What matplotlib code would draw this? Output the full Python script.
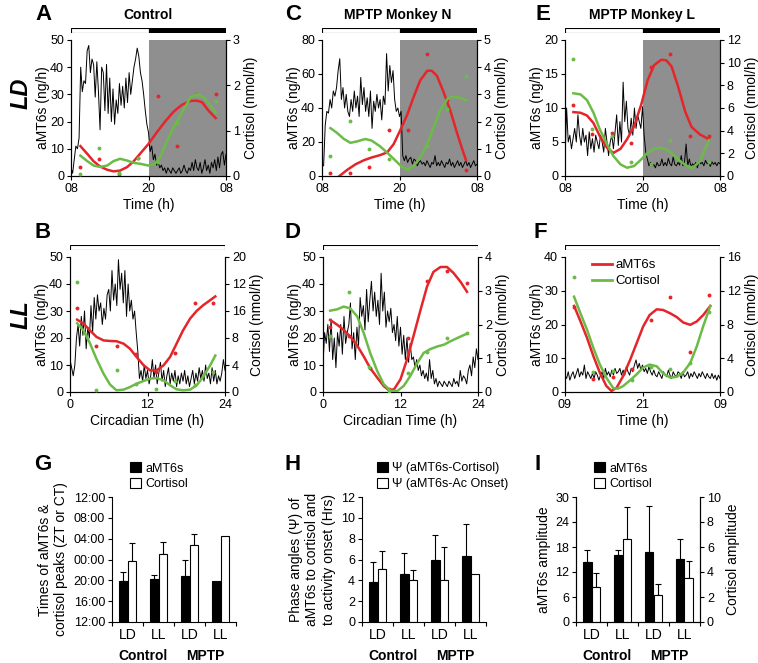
import numpy as np
import matplotlib.pyplot as plt
from matplotlib.patches import Patch
from matplotlib.lines import Line2D

plt.rcParams['font.family'] = ['Liberation Sans', 'DejaVu Sans']
plt.rcParams['font.size'] = 9

W, H = 758, 663
RED = '#e4262b'
GREEN = '#6cbb47'
GRAY = '#8f8f8f'

# ---------------- A: Control, LD ----------------
a_act_start = 8.0
a_act = [3, 1, 6, 11, 10, 14, 40, 31, 35, 34, 46, 48, 38, 43, 41, 29, 42, 31,
         17, 40, 38, 24, 41, 23, 36, 20, 32, 19, 28, 23, 34, 26, 33, 25, 36, 27,
         38, 30, 35, 40, 43, 47, 44, 38, 35, 30, 24, 19, 16, 9, 11, 6, 8, 4, 5,
         3, 4, 2, 3, 1, 3, 2, 1, 3, 2, 1, 2, 3, 1, 2, 4, 2, 1, 3, 2, 5, 2, 6, 3,
         2, 5, 1, 3, 6, 2, 4, 1, 5, 3, 6, 2, 7, 3, 8, 9, 4, 8]
a_dot_t = [9.45, 12.4, 15.4, 18.4, 21.4, 24.4, 27.4, 30.4]
a_red_dots = [3.3, 6.3, 0.9, 6.8, 29.5, 11.2, 30.1, 30.1]
a_grn_dots = [0.05, 0.61, 0.07, 0.40, 0.30, 1.18, 1.78, 1.66]
a_red_t = [9.45, 10.5, 11.5, 12.5, 13.6, 14.6, 15.6, 16.7, 17.7, 18.7, 20.0,
           21.3, 22.6, 23.9, 25.2, 26.5, 27.5, 28.3, 29.3, 30.4]
a_red_fit = [11.0, 8.2, 5.4, 3.5, 2.3, 1.7, 2.0, 3.3, 5.4, 8.2, 11.8, 16.1,
             20.1, 23.7, 26.2, 27.6, 27.7, 27.1, 24.0, 21.3]
a_grn_t = [9.45, 10.5, 11.5, 12.5, 13.6, 14.6, 15.6, 16.7, 17.7, 18.7, 20.0,
           21.0, 21.8, 22.9, 23.9, 25.2, 26.5, 27.5, 28.6, 29.6, 30.4]
a_grn_fit = [0.45, 0.33, 0.23, 0.20, 0.23, 0.33, 0.38, 0.34, 0.29, 0.27, 0.23,
             0.27, 0.42, 0.78, 1.08, 1.40, 1.73, 1.81, 1.73, 1.55, 1.40]

# ---------------- C: MPTP Monkey N, LD ----------------
c_act_start = 8.0
c_act = [6, 6, 30, 38, 37, 45, 40, 50, 47, 52, 62, 69, 45, 52, 40, 48, 38, 35,
         45, 38, 50, 40, 47, 35, 58, 42, 52, 38, 46, 35, 50, 28, 44, 38, 48, 40,
         45, 33, 47, 42, 72, 50, 65, 55, 62, 45, 38, 40, 35, 38, 12, 9, 12, 8,
         10, 11, 7, 10, 9, 6, 8, 9, 7, 8, 6, 9, 7, 5, 8, 7, 12, 6, 8, 6, 9, 7, 5,
         8, 7, 10, 6, 8, 5, 7, 9, 6, 8, 5, 7, 9, 6, 8, 5, 7, 9, 6, 7]
c_dot_t = [9.3, 12.3, 15.3, 18.3, 21.3, 24.3, 27.3, 30.3]
c_red_dots = [2.0, 1.6, 5.0, 27.2, 27.2, 71.8, 44.5, 3.4]
c_grn_dots = [0.74, 2.02, 0.99, 0.62, 0.26, 1.09, 2.48, 3.66]
c_red_t = [10.7, 11.9, 13.2, 14.5, 15.7, 17.0, 18.1, 19.1, 20.1, 21.2, 22.2,
           23.2, 24.3, 25.0, 25.8, 26.8, 27.9, 28.9, 29.7, 30.3]
c_red_fit = [0.0, 3.6, 6.9, 9.3, 10.9, 12.3, 13.9, 18.8, 26.8, 36.1, 46.6,
             56.2, 61.9, 61.9, 58.9, 49.6, 38.1, 25.4, 15.9, 9.3]
c_grn_t = [9.3, 10.3, 11.4, 12.4, 13.4, 14.7, 15.7, 17.0, 18.3, 19.4, 20.4,
           21.2, 22.2, 23.2, 24.3, 25.3, 26.3, 27.4, 28.1, 29.2, 30.3]
c_grn_fit = [1.76, 1.59, 1.36, 1.22, 1.27, 1.36, 1.30, 1.09, 0.81, 0.56, 0.33,
             0.25, 0.37, 0.68, 1.18, 1.80, 2.42, 2.83, 2.92, 2.88, 2.79]

# ---------------- E: MPTP Monkey L, LD ----------------
e_act_start = 8.0
e_act = [2, 10, 5, 6, 4, 5.5, 7, 5, 9, 6, 4.5, 7, 5, 6, 3, 6.5, 4, 5.5, 3.5, 6,
         5, 4, 6, 5, 3.5, 7, 5, 3, 5, 6, 4, 6.5, 9, 4.5, 8, 5, 13.8, 8, 11, 7, 6,
         8.5, 6, 10, 7, 9, 8, 7, 10.2, 6, 3.5, 2.5, 1.5, 2, 1.5, 1.7, 1.2, 2, 1.5,
         1.6, 2.5, 1.5, 2, 1.5, 2.6, 1.8, 1.5, 2.8, 1.7, 1.5, 2, 1.6, 3, 1.5, 2,
         4.7, 1.5, 2.5, 1.4, 1.8, 1.5, 2, 1.2, 2.2, 1.8, 2, 1.5, 2.3, 1.8, 2, 1.4,
         2.1, 1.7, 2, 1.5, 2, 1.8]
e_dot_t = [9.3, 12.2, 15.2, 18.2, 21.3, 24.3, 27.3, 30.3]
e_red_dots = [10.4, 6.2, 6.3, 4.9, 16.1, 18.0, 5.95, 5.95]
e_grn_dots = [10.3, 4.16, 3.57, 1.23, 1.1, 3.2, 0.8, 1.2]
e_red_t = [9.3, 10.4, 11.4, 12.4, 13.4, 14.5, 15.5, 16.6, 17.6, 18.7, 19.8,
           20.8, 21.8, 22.9, 23.7, 24.5, 25.5, 26.6, 27.6, 28.9, 30.3]
e_red_fit = [9.4, 9.3, 8.9, 7.8, 5.85, 4.15, 3.4, 4.0, 5.4, 7.3, 10.5, 14.1,
             16.3, 17.1, 17.0, 16.1, 13.2, 9.5, 7.2, 6.1, 5.4]
e_grn_t = [9.3, 10.4, 11.4, 12.4, 13.4, 14.5, 15.5, 16.6, 17.6, 18.7, 19.8,
           20.8, 21.8, 22.9, 23.9, 25.0, 26.0, 27.1, 27.8, 28.9, 30.3]
e_grn_fit = [7.3, 7.2, 6.7, 5.6, 4.1, 2.8, 1.76, 1.02, 0.73, 0.88, 1.46, 2.05,
             2.4, 2.49, 2.28, 1.76, 1.23, 0.82, 0.73, 1.32, 3.16]

# ---------------- B: Control, LL ----------------
b_act_start = 0.0
b_act = [12, 9, 6, 10, 20, 25, 17, 28, 21, 30, 16, 24, 20, 32, 22, 35, 27, 36,
         30, 33, 25, 31, 27, 36, 38, 30, 45, 34, 40, 32, 49, 38, 44, 33, 45, 28,
         40, 30, 34, 27, 30, 22, 15, 5, 8, 4, 10, 5, 8, 3, 6, 12, 5, 10, 3, 7, 11,
         4, 8, 2, 6, 9, 3, 7, 4, 8, 2, 6, 3, 7, 4, 8, 3, 6, 2, 5, 8, 3, 7, 4, 9,
         5, 8, 4, 10, 5, 7, 3, 9, 4, 8, 3, 6, 4, 7, 12, 8]
b_dot_t = [1.1, 4.1, 7.2, 10.2, 13.3, 16.3, 19.3, 22.2]
b_red_dots = [31.0, 17.0, 17.0, 14.0, 7.4, 14.5, 33.0, 33.0]
b_grn_dots = [16.3, 0.25, 3.2, 1.2, 0.4, 1.7, 1.0, 3.0]
b_red_t = [1.1, 2.1, 3.1, 4.1, 5.2, 6.2, 7.2, 8.3, 9.3, 10.3, 11.4, 12.4,
           13.4, 14.5, 15.5, 16.5, 17.5, 18.6, 19.6, 20.6, 21.7, 22.5]
b_red_fit = [26.8, 25.3, 22.8, 20.4, 19.1, 18.9, 18.8, 17.9, 16.0, 13.0, 9.9,
             8.0, 8.0, 9.9, 13.0, 17.9, 22.8, 27.2, 30.0, 32.1, 34.0, 35.4]
b_grn_t = b_red_t
b_grn_fit = [10.2, 9.1, 7.2, 4.9, 2.7, 1.1, 0.25, 0.35, 0.74, 1.23, 1.63, 1.98,
             2.07, 1.73, 0.99, 0.4, 0.25, 0.35, 0.99, 2.2, 3.95, 5.4]

# ---------------- D: MPTP Monkey N, LL ----------------
d_act_start = 0.0
d_act = [10, 22, 18, 25, 15, 27, 12, 20, 9, 22, 17, 25, 14, 28, 18, 22, 25, 33,
         16, 22, 12, 24, 17, 35, 28, 32, 23, 38, 26, 34, 41, 30, 37, 28, 34, 25,
         44, 30, 37, 24, 30, 26, 31, 22, 25, 19, 28, 17, 24, 14, 21, 12, 20, 11,
         18, 12, 13, 9, 12, 8, 10, 6, 8, 5, 7, 4, 12, 5, 8, 3, 5, 2, 4, 3, 2, 4,
         3, 2, 4, 3, 2, 5, 3, 4, 2, 8, 4, 6, 5, 3, 8, 10, 6, 13, 9, 16, 12]
d_dot_t = [1.1, 4.1, 7.2, 10.2, 13.2, 16.1, 19.2, 22.3]
d_red_dots = [24.0, 20.6, 9.0, 1.0, 20.0, 41.2, 44.9, 40.4]
d_grn_dots = [1.67, 2.97, 0.75, 0.02, 0.57, 1.2, 1.6, 1.75]
d_red_t = [1.1, 2.2, 3.2, 4.2, 5.3, 6.3, 7.3, 8.4, 9.4, 10.2, 11.0, 12.0, 13.0,
           14.0, 15.1, 16.1, 17.1, 18.2, 19.2, 20.2, 21.3, 22.3]
d_red_fit = [26.7, 24.9, 23.0, 20.6, 17.2, 13.2, 8.9, 5.3, 2.2, 0.7, 1.0, 4.7,
             12.0, 20.6, 30.4, 39.0, 44.5, 46.3, 46.3, 44.1, 40.8, 37.1]
d_grn_t = [1.1, 2.2, 3.2, 4.2, 5.3, 6.3, 7.3, 8.4, 9.4, 10.5, 11.5, 12.5, 13.5,
           14.6, 15.6, 16.6, 17.7, 18.7, 19.7, 20.8, 22.3]
d_grn_fit = [2.41, 2.45, 2.53, 2.48, 2.24, 1.75, 1.16, 0.62, 0.23, 0.03, 0.03,
             0.18, 0.47, 0.86, 1.16, 1.27, 1.35, 1.40, 1.50, 1.60, 1.73]

# ---------------- F: MPTP Monkey L, LL ----------------
f_act_start = 9.0
f_act = [5, 4, 6, 3.5, 5, 6, 4, 5.5, 7, 4.5, 6, 5, 8, 4, 6, 5, 4, 5.5, 4, 6, 5,
         3.5, 5, 6, 4, 7, 5, 6, 4.5, 6.5, 5, 7, 5.5, 6, 7, 5, 6.5, 5, 7.5, 6, 5,
         7, 6, 8, 9.5, 7, 8.5, 6.5, 8, 6, 7, 5.5, 7.5, 6, 5, 6.5, 5, 4.5, 6, 5, 4,
         6, 5, 4.5, 6.5, 5, 4, 6, 5, 4.5, 6, 5.5, 4, 6, 4.5, 5, 6, 4, 5.5, 4.5, 6,
         5, 4, 5.5, 4.5, 6, 5, 4, 5.5, 4.5, 4, 5.5, 4, 5, 3.5, 5, 4]
f_dot_t = [10.4, 13.4, 16.4, 19.4, 22.3, 25.3, 28.3, 31.3]
f_red_dots = [25.1, 4.0, 4.5, 6.7, 21.2, 28.2, 11.8, 28.7]
f_grn_dots = [13.6, 2.35, 2.5, 1.4, 3.0, 2.7, 3.4, 9.5]
f_red_t = [10.4, 11.3, 12.4, 13.4, 14.4, 15.4, 16.2, 17.0, 18.0, 19.1, 20.1,
           21.1, 22.1, 23.2, 24.2, 25.3, 26.3, 27.3, 28.4, 29.4, 30.4, 31.5]
f_red_fit = [25.5, 21.4, 16.1, 10.6, 5.7, 1.8, 0.3, 1.3, 4.7, 9.6, 14.5, 19.4,
             22.8, 24.5, 24.3, 23.3, 22.2, 20.6, 19.9, 20.9, 22.8, 25.5]
f_grn_t = [10.4, 11.3, 12.4, 13.4, 14.4, 15.4, 16.5, 17.2, 18.0, 19.1, 20.1,
           21.1, 22.1, 23.2, 24.2, 25.3, 26.3, 27.3, 28.4, 29.4, 30.4, 31.5]
f_grn_fit = [11.3, 9.5, 7.4, 5.2, 3.25, 1.7, 0.43, 0.4, 0.7, 1.4, 2.1, 2.9,
             3.25, 3.05, 2.2, 1.7, 1.8, 2.3, 3.45, 5.4, 7.8, 10.2]

# ---------------- G, H, I: group summaries ----------------
groups = ['LD', 'LL', 'LD', 'LL']
conditions = ['Control', 'MPTP']

g_amt = [19.9, 20.2, 20.9, 19.9]
g_amt_err = [1.75, 0.9, 3.1, 0]
g_cort = [23.7, 25.0, 26.8, 28.6]
g_cort_err = [3.4, 2.4, 2.1, 0]
g_ticks = [12, 16, 20, 24, 28, 32, 36]
g_ticklabels = ['12:00', '16:00', '20:00', '00:00', '04:00', '08:00', '12:00']

h_psi_cort = [3.85, 4.6, 5.95, 6.35]
h_psi_cort_err = [1.95, 2.05, 2.4, 3.05]
h_psi_onset = [5.1, 4.0, 4.05, 4.6]
h_psi_onset_err = [1.75, 1.0, 3.15, 0]

i_amt = [14.3, 16.0, 16.7, 15.1]
i_amt_err = [2.9, 1.2, 11.2, 4.9]
i_cort = [2.8, 6.65, 2.15, 3.5]
i_cort_err = [1.1, 2.55, 0.9, 1.4]


fig = plt.figure(figsize=(W / 100, H / 100), dpi=100)


def px_axes(l, t, r, b):
    return fig.add_axes([l / W, 1 - b / H, (r - l) / W, (b - t) / H])


def light_bar(rect, xlim, starts, widths, colors):
    bx = px_axes(*rect)
    bx.barh(0, widths, left=starts, height=1, color=colors,
            edgecolor='black', linewidth=0.8)
    bx.set_xlim(xlim)
    bx.set_ylim(-0.5, 0.5)
    bx.axis('off')


def time_panel(rect, xlim, xticks, xticklabels, act_start, act,
               dot_t, red_dots, grn_dots, red_t, red_fit, grn_t, grn_fit,
               ylim, yticks, ylim2, yticks2, xlabel, dark=None,
               yticklabels2=None):
    ax = px_axes(*rect)
    ax2 = ax.twinx()
    if dark is not None:
        ax.axvspan(dark[0], dark[1], color=GRAY, lw=0, zorder=0)
    act_t = act_start + 0.25 * np.arange(len(act))
    ax.plot(act_t, act, color='black', lw=0.7, zorder=2)
    ax.plot(red_t, red_fit, color=RED, lw=1.8, zorder=3)
    ax.plot(dot_t, red_dots, 'o', color=RED, ms=2.8, mew=0, zorder=4)
    ax2.plot(grn_t, grn_fit, color=GREEN, lw=1.8, zorder=3)
    ax2.plot(dot_t, grn_dots, 'o', color=GREEN, ms=2.8, mew=0, zorder=4)

    ax.set_xlim(xlim)
    ax.set_xticks(xticks)
    ax.set_xticklabels(xticklabels)
    ax.set_ylim(ylim)
    ax.set_yticks(yticks)
    ax2.set_ylim(ylim2)
    ax2.set_yticks(yticks2)
    if yticklabels2 is not None:
        ax2.set_yticklabels(yticklabels2)
    for a in (ax, ax2):
        a.spines['top'].set_visible(False)
        for s in a.spines.values():
            s.set_linewidth(0.8)
        a.tick_params(direction='out', length=3, width=0.8, pad=2,
                      labelsize=9)
    ax.set_ylabel('aMT6s (ng/h)', fontsize=10, labelpad=0)
    ax2.set_ylabel('Cortisol (nmol/h)', fontsize=10, labelpad=3)
    ax.set_xlabel(xlabel, fontsize=10, labelpad=2)
    return ax, ax2


def bar_panel(rect, black, black_err, white, white_err, ylim, yticks,
              yticklabels=None, twin_ylim=None, twin_yticks=None):
    ax = px_axes(*rect)
    x = np.arange(len(groups))
    wd = 0.28
    ax.bar(x - wd / 2, black, wd, color='black', edgecolor='black',
           lw=0.8, zorder=2)
    has_err = np.array(black_err) > 0
    ax.errorbar((x - wd / 2)[has_err], np.array(black)[has_err],
                yerr=[np.zeros(has_err.sum()), np.array(black_err)[has_err]],
                fmt='none', ecolor='black', elinewidth=0.8, capsize=2.5,
                capthick=0.8, zorder=1)
    wax = ax
    if twin_ylim is not None:
        wax = ax.twinx()
        wax.set_ylim(twin_ylim)
        wax.set_yticks(twin_yticks)
        wax.spines['top'].set_visible(False)
        wax.tick_params(direction='out', length=3, width=0.8, pad=2,
                        labelsize=9)
    wax.bar(x + wd / 2, white, wd, color='white', edgecolor='black',
            lw=0.8, zorder=2)
    has_err = np.array(white_err) > 0
    wax.errorbar((x + wd / 2)[has_err], np.array(white)[has_err],
                 yerr=[np.zeros(has_err.sum()), np.array(white_err)[has_err]],
                 fmt='none', ecolor='black', elinewidth=0.8, capsize=2.5,
                 capthick=0.8, zorder=1)
    if wax is ax:
        ax.spines['right'].set_visible(False)
    ax.spines['top'].set_visible(False)
    ax.set_xlim(-0.5, len(groups) - 0.5)
    ax.set_ylim(ylim)
    ax.set_yticks(yticks)
    if yticklabels is not None:
        ax.set_yticklabels(yticklabels)
    ax.set_xticks(x)
    ax.set_xticklabels(groups, fontsize=10)
    ax.set_xticks(np.arange(len(groups) + 1) - 0.5, minor=True)
    ax.tick_params(axis='x', which='major', length=0, pad=4)
    ax.tick_params(axis='x', which='minor', direction='out', length=3,
                   width=0.8)
    ax.tick_params(axis='y', direction='out', length=3, width=0.8, pad=2,
                   labelsize=9)
    for s in ax.spines.values():
        s.set_linewidth(0.8)
    for k, name in enumerate(conditions):
        ax.text(0.5 + 2 * k, -0.27, name, transform=ax.get_xaxis_transform(),
                ha='center', va='center', fontsize=10, fontweight='bold')
    return ax, wax


def bar_legend(ax, x, y, labels):
    handles = [Patch(facecolor='black', edgecolor='black', lw=0.8),
               Patch(facecolor='white', edgecolor='black', lw=0.8)]
    ax.legend(handles, labels, loc='upper left',
              bbox_to_anchor=(x / W, 1 - y / H), bbox_transform=fig.transFigure,
              frameon=False, fontsize=9, handlelength=0.9, handleheight=0.9,
              handletextpad=0.3, borderpad=0, borderaxespad=0,
              labelspacing=0.25)


# Top row (LD)
hours_ld = [8, 20, 32]
hours_lbl = ['08', '20', '08']
for rect in [(71, 28, 226, 33), (322, 28, 477, 33), (565, 28, 720, 33)]:
    light_bar(rect, (8, 32), [8, 20], [12, 12], ['white', 'black'])

time_panel((71, 40, 226, 176), (8, 32), hours_ld, hours_lbl, a_act_start,
           a_act, a_dot_t, a_red_dots, a_grn_dots, a_red_t, a_red_fit,
           a_grn_t, a_grn_fit, (0, 50), range(0, 51, 10), (0, 3),
           range(0, 4), 'Time (h)', dark=(20, 32))
time_panel((322, 40, 477, 176), (8, 32), hours_ld, hours_lbl, c_act_start,
           c_act, c_dot_t, c_red_dots, c_grn_dots, c_red_t, c_red_fit,
           c_grn_t, c_grn_fit, (0, 80), range(0, 81, 20), (0, 5),
           range(0, 6), 'Time (h)', dark=(20, 32))
time_panel((565, 40, 720, 176), (8, 32), hours_ld, hours_lbl, e_act_start,
           e_act, e_dot_t, e_red_dots, e_grn_dots, e_red_t, e_red_fit,
           e_grn_t, e_grn_fit, (0, 20), range(0, 21, 5), (0, 12),
           range(0, 13, 2), 'Time (h)', dark=(20, 32))

# Middle row (LL)
light_bar((70, 245, 225, 250), (0, 24), [0], [24], ['white'])
light_bar((323, 245, 478, 250), (0, 24), [0], [24], ['white'])
light_bar((565, 245, 720, 250), (9, 33), [9], [24], ['white'])

time_panel((70, 257, 225, 392), (0, 24), [0, 12, 24], ['0', '12', '24'],
           b_act_start, b_act, b_dot_t, b_red_dots, b_grn_dots, b_red_t,
           b_red_fit, b_grn_t, b_grn_fit, (0, 50), range(0, 51, 10), (0, 20),
           range(0, 21, 4), 'Circadian Time (h)',
           yticklabels2=['0', '4', '8', '16', '12', '20'])
time_panel((323, 257, 478, 392), (0, 24), [0, 12, 24], ['0', '12', '24'],
           d_act_start, d_act, d_dot_t, d_red_dots, d_grn_dots, d_red_t,
           d_red_fit, d_grn_t, d_grn_fit, (0, 50), range(0, 51, 10), (0, 4),
           range(0, 5), 'Circadian Time (h)')
fax, fax2 = time_panel((565, 257, 720, 392), (9, 33), [9, 21, 33],
                       ['09', '21', '09'], f_act_start, f_act, f_dot_t,
                       f_red_dots, f_grn_dots, f_red_t, f_red_fit, f_grn_t,
                       f_grn_fit, (0, 40), range(0, 41, 10), (0, 16),
                       range(0, 17, 4), 'Time (h)')
fax2.legend([Line2D([], [], color=RED, lw=2), Line2D([], [], color=GREEN, lw=2)],
            ['aMT6s', 'Cortisol'], loc='upper left',
            bbox_to_anchor=(592 / W, 1 - 259 / H),
            bbox_transform=fig.transFigure, frameon=False, fontsize=9.5,
            handlelength=1.5, handletextpad=0.3, borderpad=0,
            borderaxespad=0, labelspacing=0.3)

# Bottom row (summaries)
gax, _ = bar_panel((112, 497, 236, 622), g_amt, g_amt_err, g_cort, g_cort_err,
                   (12, 36), g_ticks, g_ticklabels)
gax.set_ylabel('Times of aMT6s &\ncortisol peaks (ZT or CT)', fontsize=10,
               labelpad=4)
bar_legend(gax, 130, 462, ['aMT6s', 'Cortisol'])

hax, _ = bar_panel((362, 497, 486, 622), h_psi_cort, h_psi_cort_err,
                   h_psi_onset, h_psi_onset_err, (0, 12), range(0, 13, 2))
hax.set_ylabel('Phase angles (\u03a8) of\naMT6s to cortisol and\n'
               'to activity onset (Hrs)', fontsize=10, labelpad=4)
bar_legend(hax, 377, 462, ['\u03a8 (aMT6s-Cortisol)',
                           '\u03a8 (aMT6s-Ac Onset)'])

iax, iax2 = bar_panel((576, 497, 700, 622), i_amt, i_amt_err, i_cort,
                      i_cort_err, (0, 30), range(0, 31, 6),
                      twin_ylim=(0, 10), twin_yticks=range(0, 11, 2))
iax.set_ylabel('aMT6s amplitude', fontsize=10, labelpad=3)
iax2.set_ylabel('Cortisol amplitude', fontsize=10, labelpad=4)
bar_legend(iax, 594, 462, ['aMT6s', 'Cortisol'])

# Panel letters, titles and row labels
letters = ['A', 'C', 'E', 'B', 'D', 'F', 'G', 'H', 'I']
letter_xy = [(43, 15), (293, 15), (543, 15), (43, 233), (293, 233),
             (540, 233), (43, 465), (293, 465), (538, 465)]
for lab, (lx, ly) in zip(letters, letter_xy):
    fig.text(lx / W, 1 - ly / H, lab, fontsize=16, fontweight='bold',
             ha='center', va='center')

titles = ['Control', 'MPTP Monkey N', 'MPTP Monkey L']
title_x = [148, 398, 642]
for t, tx in zip(titles, title_x):
    fig.text(tx / W, 1 - 15 / H, t, fontsize=10, fontweight='bold',
             ha='center', va='center')

fig.text(21 / W, 1 - 93 / H, 'LD', fontsize=17, fontweight='bold',
         fontstyle='italic', rotation=90, ha='center', va='center')
fig.text(21 / W, 1 - 315 / H, 'LL', fontsize=17, fontweight='bold',
         fontstyle='italic', rotation=90, ha='center', va='center')

fig.savefig('out.png', dpi=100)
